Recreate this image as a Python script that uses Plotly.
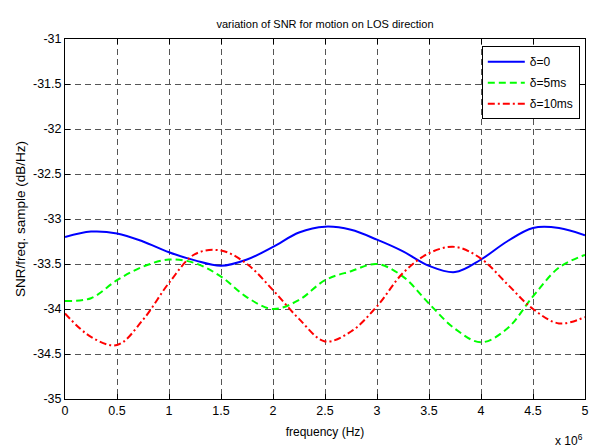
import plotly.graph_objects as go

# frequency in units of 1e6 Hz
freq = [0, 0.25, 0.5, 0.75, 1.0, 1.25, 1.5, 1.75, 2.0, 2.25, 2.5,
        2.75, 3.0, 3.25, 3.5, 3.75, 4.0, 4.25, 4.5, 4.75, 5.0]

snr_d0 = [-33.20, -33.14, -33.16, -33.25, -33.37, -33.46, -33.52, -33.45, -33.31, -33.15, -33.085,
          -33.12, -33.23, -33.36, -33.52, -33.59, -33.45, -33.25, -33.10, -33.10, -33.18]
snr_d5 = [-33.91, -33.88, -33.68, -33.53, -33.45, -33.49, -33.64, -33.87, -34.00, -33.90, -33.68,
          -33.58, -33.50, -33.64, -33.94, -34.22, -34.37, -34.22, -33.86, -33.54, -33.40]
snr_d10 = [-34.05, -34.31, -34.40, -34.12, -33.71, -33.39, -33.35, -33.50, -33.79, -34.11, -34.36,
           -34.25, -33.97, -33.60, -33.38, -33.31, -33.44, -33.72, -34.00, -34.16, -34.09]

series_names = ["δ=0", "δ=5ms", "δ=10ms"]

x_tickvals = [0, 0.5, 1, 1.5, 2, 2.5, 3, 3.5, 4, 4.5, 5]
x_ticktext = ["0", "0.5", "1", "1.5", "2", "2.5", "3", "3.5", "4", "4.5", "5"]
y_tickvals = [-35, -34.5, -34, -33.5, -33, -32.5, -32, -31.5, -31]
y_ticktext = ["-35", "-34.5", "-34", "-33.5", "-33", "-32.5", "-32", "-31.5", "-31"]

FONT = "Liberation Sans, Arial, sans-serif"

fig = go.Figure()
styles = [
    dict(color="#0000ff", width=2, dash="solid"),
    dict(color="#00ff00", width=2, dash="7px,4px"),
    dict(color="#ff0000", width=2, dash="7px,3px,2px,3px"),
]
for i, (name, ys) in enumerate(zip(series_names, [snr_d0, snr_d5, snr_d10])):
    fig.add_trace(go.Scatter(x=freq, y=ys, mode="lines", name=name,
                             line=dict(shape="spline", smoothing=1.0, **styles[i]),
                             legendgroup=f"g{i}"))

axis_common = dict(
    showline=True, linecolor="black", linewidth=1, mirror="ticks",
    ticks="inside", ticklen=5, tickcolor="black", tickwidth=1,
    showgrid=True, gridcolor="#555555", gridwidth=1, griddash="6px,4px",
    zeroline=False, tickfont=dict(family=FONT, size=12.5, color="black"),
)

fig.update_xaxes(range=[0, 5], tickvals=x_tickvals, ticktext=x_ticktext,
                 title=dict(text="frequency (Hz)", font=dict(family=FONT, size=12, color="black"), standoff=10),
                 **axis_common)
fig.update_yaxes(range=[-35, -31], tickvals=y_tickvals, ticktext=y_ticktext,
                 title=dict(text="SNR/freq. sample (dB/Hz)", font=dict(family=FONT, size=13.5, color="black"), standoff=4),
                 **axis_common)

fig.update_layout(
    width=589, height=447,
    margin=dict(l=65, r=4, t=39, b=48, autoexpand=False),
    paper_bgcolor="white", plot_bgcolor="white",
    title=dict(text="variation of SNR for motion on LOS direction",
               x=325/589, xanchor="center", y=1-24/447, yanchor="middle",
               font=dict(family=FONT, size=11, color="black")),
    legend=dict(x=0.99, xanchor="right", y=0.98, yanchor="top",
                bgcolor="white", bordercolor="black", borderwidth=1,
                font=dict(family=FONT, size=12, color="black"),
                itemwidth=37, traceorder="grouped", tracegroupgap=2),
    showlegend=True,
)
fig.add_annotation(text="x 10<sup>6</sup>", xref="paper", yref="paper",
                   x=1.0, xanchor="right", y=-(440-399)/360, yanchor="middle",
                   showarrow=False, font=dict(family=FONT, size=12, color="black"))

fig.write_html("out.html", config={"displayModeBar": False},
               post_script="document.body.style.margin='0px';document.body.style.overflow='hidden';")
